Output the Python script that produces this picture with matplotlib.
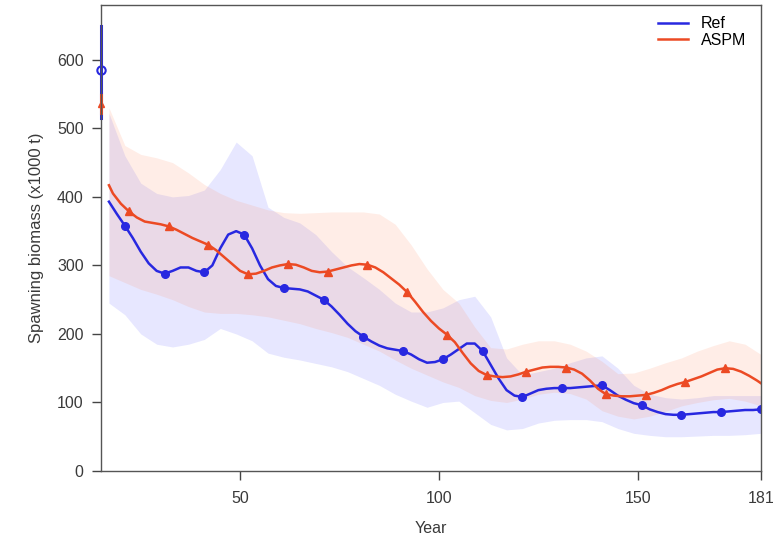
import matplotlib
matplotlib.use("Agg")
import matplotlib.pyplot as plt
import numpy as np

plt.rcParams['font.family'] = ['Liberation Sans', 'DejaVu Sans']

# ---- data ----
ref_years = list(range(17, 182, 2))
ref_vals = [393, 375, 358, 340, 320, 303, 292, 288, 292, 297, 297, 292, 290, 300, 325, 345,
            350, 345, 325, 300, 280, 270, 267, 266, 265, 262, 256, 250, 240, 228, 215, 204,
            196, 189, 183, 179, 177, 175, 170, 163, 158, 159, 163, 170, 178, 186, 186, 175,
            155, 135, 118, 110, 108, 113, 118, 120, 121, 121, 121, 122, 123, 124, 125, 118,
            110, 104, 99, 96, 90, 86, 83, 82, 82, 83, 84, 85, 86, 86, 87, 88, 89, 89, 90]

aspm_years = [17] + list(range(18, 181, 2)) + [181]
aspm_vals = [417, 405, 390, 379, 370, 364, 362, 360, 357, 352, 346, 340, 335, 330, 322, 312,
             302, 292, 287, 288, 292, 297, 300, 302, 301, 297, 292, 290, 291, 294, 297, 300,
             302, 301, 297, 290, 281, 272, 261, 247, 232, 219, 208, 199, 188, 172, 157, 146,
             140, 138, 137, 138, 141, 145, 148, 151, 152, 152, 151, 148, 142, 132, 120, 112,
             110, 109, 109, 110, 111, 114, 118, 123, 127, 130, 134, 138, 143, 148, 150, 149,
             145, 139, 132, 128]

band_years = list(range(17, 182, 4))
ref_upper = [522, 460, 420, 405, 400, 402, 410, 440, 480, 460, 385, 370, 362, 345, 320, 298,
             282, 265, 245, 232, 232, 238, 250, 255, 225, 165, 140, 145, 150, 158, 165, 168,
             150, 125, 112, 107, 105, 107, 110, 110, 110, 110]
ref_lower = [245, 228, 200, 185, 181, 185, 192, 208, 200, 190, 172, 166, 162, 157, 152, 145,
             135, 125, 112, 102, 93, 100, 102, 85, 68, 60, 62, 70, 74, 75, 75, 72,
             62, 55, 52, 50, 50, 51, 52, 52, 53, 55]
aspm_upper = [530, 475, 462, 457, 450, 435, 418, 405, 395, 388, 381, 377, 376, 377, 378, 378,
              378, 375, 360, 330, 295, 265, 245, 210, 180, 178, 185, 190, 190, 185, 175, 160,
              142, 143, 150, 158, 165, 175, 183, 190, 185, 170]
aspm_lower = [285, 275, 265, 258, 250, 240, 232, 230, 230, 228, 225, 220, 215, 208, 202, 195,
              185, 175, 162, 150, 140, 130, 122, 110, 103, 100, 105, 112, 115, 113, 105, 88,
              80, 76, 80, 87, 95, 100, 104, 106, 102, 95]

init_year = 15
ref_init, ref_init_lo, ref_init_hi = 585, 515, 650
aspm_init, aspm_init_lo, aspm_init_hi = 535, 522, 548

ref_marker_years = list(range(21, 182, 10))
aspm_marker_years = list(range(22, 181, 10))

xticks = [50, 100, 150, 181]
yticks = [0, 100, 200, 300, 400, 500, 600]

# ---- style ----
blue = "#2828e0"
red = "#ec4a24"
fs = 11.5

fig = plt.figure(figsize=(7.79, 5.49), dpi=100)
ax = fig.add_axes([101/779, 1 - 471/549, (761-101)/779, (471-5)/549])

ax.fill_between(band_years, ref_lower, ref_upper, color="#6060ff", alpha=0.15, lw=0)
ax.fill_between(band_years, aspm_lower, aspm_upper, color="#ff8a60", alpha=0.15, lw=0)

ref_idx = [ref_years.index(y) for y in ref_marker_years]
aspm_idx = [aspm_years.index(y) for y in aspm_marker_years]
ax.plot(ref_years, ref_vals, color=blue, lw=1.8, marker="o", markersize=5.5,
        markevery=ref_idx, label="Ref")
ax.plot(aspm_years, aspm_vals, color=red, lw=1.8, marker="^", markersize=6,
        markevery=aspm_idx, label="ASPM")

ax.plot([init_year, init_year], [ref_init_lo, ref_init_hi], color=blue, lw=2.2, clip_on=False)
ax.plot([init_year], [ref_init], marker="o", color=blue, mfc="none", mew=1.5, markersize=6, clip_on=False)
ax.plot([init_year, init_year], [aspm_init_lo, aspm_init_hi], color=red, lw=2.2, clip_on=False)
ax.plot([init_year], [aspm_init], marker="^", color=red, markersize=5, clip_on=False)

ax.set_xlim(15, 181)
ax.set_ylim(0, 680)
ax.set_xticks(xticks)
ax.set_yticks(yticks)
ax.tick_params(direction="out", length=6.5, width=1, colors="#444444", labelsize=fs, pad=6)
ax.tick_params(axis="y", labelcolor="#3a3a3a")
ax.tick_params(axis="x", labelcolor="#3a3a3a", pad=8)
for s in ax.spines.values():
    s.set_color("#555555")
    s.set_linewidth(1.0)

ax.set_xlabel("Year", fontsize=fs, color="#3a3a3a", labelpad=11)
ax.set_ylabel("Spawning biomass (x1000 t)", fontsize=12, color="#3a3a3a", labelpad=9)

leg = ax.legend(loc="upper right", bbox_to_anchor=(0.995, 1.0), frameon=False, fontsize=fs,
                handlelength=1.9, handletextpad=0.8, borderaxespad=0.3, labelspacing=0.1)
for h in leg.legend_handles:
    h.set_marker("")

fig.savefig("out.png", dpi=100)
